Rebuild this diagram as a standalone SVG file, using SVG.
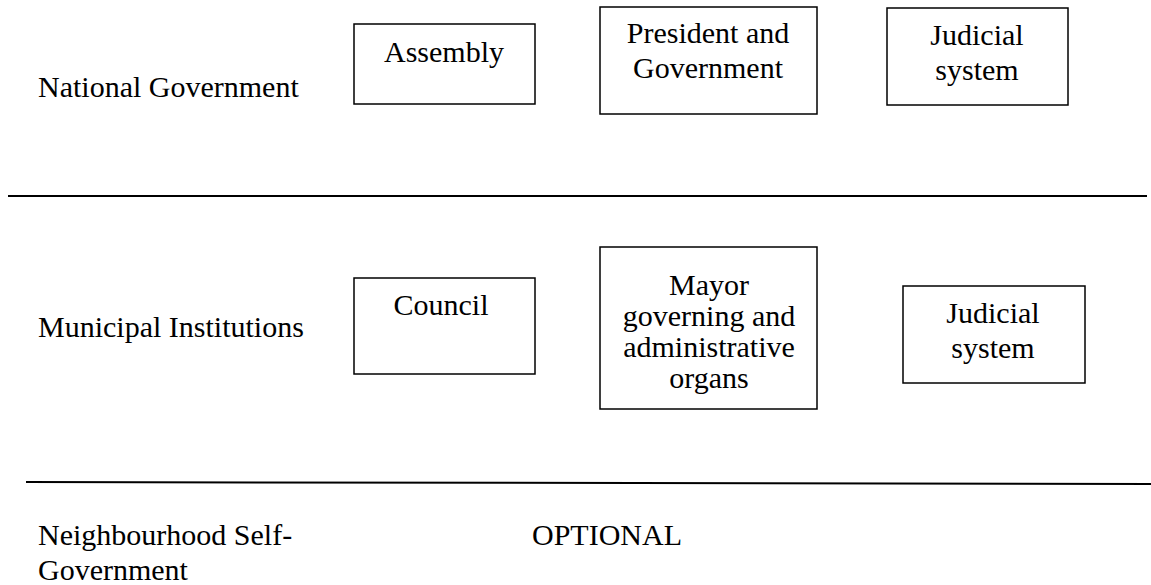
<svg xmlns="http://www.w3.org/2000/svg" width="1151" height="585" viewBox="0 0 1151 585">
<style>
.box{fill:#fff;stroke:#000;stroke-width:1.5}
.sep{stroke:#000;stroke-width:2}
</style>
<rect width="1151" height="585" fill="#fff"/>
<g font-family="Liberation Serif, Times New Roman, serif" font-size="30" fill="#000">
<g id="labels">
<text x="38" y="97">National Government</text>
<text x="38" y="337">Municipal Institutions</text>
<text x="38" y="545">Neighbourhood Self-</text>
<text x="38" y="580">Government</text>
<text x="532" y="545">OPTIONAL</text>
</g>
<g id="connectors">
<line class="sep" x1="8" y1="196" x2="1147" y2="196"/>
<line class="sep" x1="26" y1="482" x2="1151" y2="484"/>
</g>
<g id="assembly" text-anchor="middle">
<rect class="box" x="354" y="24" width="181" height="80"/>
<text x="444" y="62">Assembly</text>
</g>
<g id="president" text-anchor="middle">
<rect class="box" x="600" y="7" width="217" height="107"/>
<text x="708" y="43">President and</text>
<text x="708" y="78">Government</text>
</g>
<g id="judicial-national" text-anchor="middle">
<rect class="box" x="887" y="8" width="181" height="97"/>
<text x="977" y="45">Judicial</text>
<text x="977" y="80">system</text>
</g>
<g id="council" text-anchor="middle">
<rect class="box" x="354" y="278" width="181" height="96"/>
<text x="441" y="315">Council</text>
</g>
<g id="mayor" text-anchor="middle">
<rect class="box" x="600" y="247" width="217" height="162"/>
<text x="709" y="295">Mayor</text>
<text x="709" y="326">governing and</text>
<text x="709" y="357">administrative</text>
<text x="709" y="388">organs</text>
</g>
<g id="judicial-municipal" text-anchor="middle">
<rect class="box" x="903" y="286" width="182" height="97"/>
<text x="993" y="323">Judicial</text>
<text x="993" y="358">system</text>
</g>
</g>
</svg>
